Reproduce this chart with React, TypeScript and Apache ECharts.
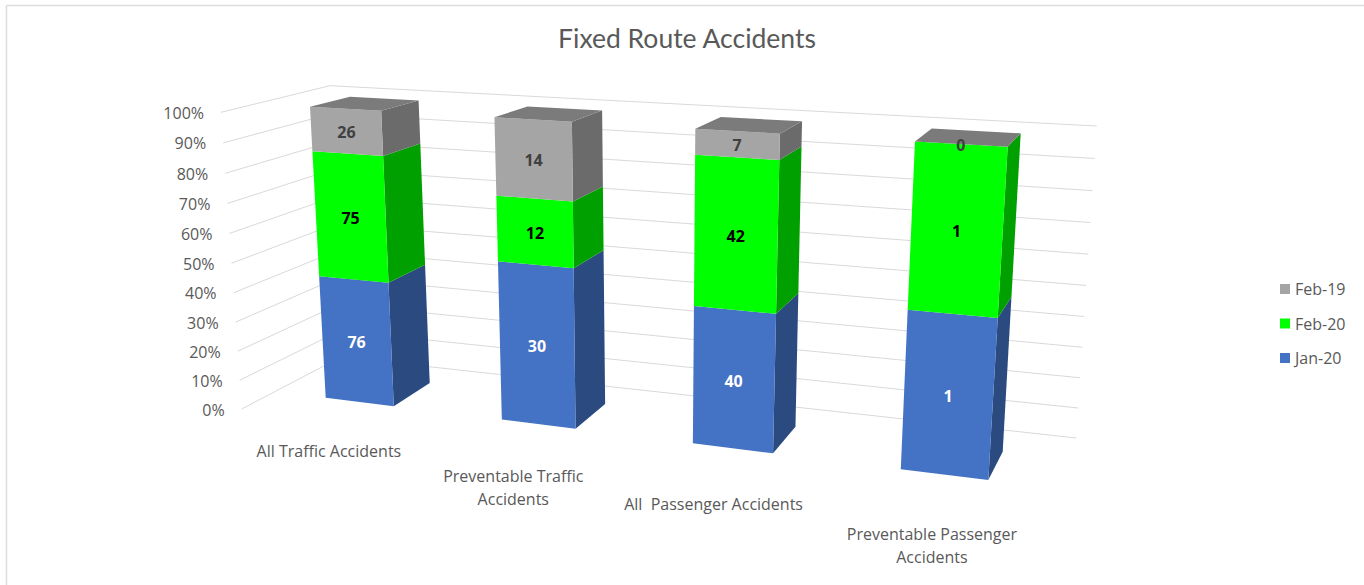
import React, { useEffect, useRef } from "react";
import * as echarts from "echarts";

const titleText = "Fixed Route Accidents";
const categories = [
  "All Traffic Accidents",
  "Preventable Traffic\nAccidents",
  "All  Passenger Accidents",
  "Preventable Passenger\nAccidents",
];
const jan20Values = [76, 30, 40, 1];
const feb20Values = [75, 12, 42, 1];
const feb19Values = [26, 14, 7, 0];
const tickValues = [0, 10, 20, 30, 40, 50, 60, 70, 80, 90, 100];
const legendOrder = ["Feb-19", "Feb-20", "Jan-20"];

const FONT = "Lato";
const SMALL_FONT = "Open Sans";
const TEXT = "#595959";
const GRID_LINE = "#d9d9d9";
const BAR_WIDTH = 0.396; // of one category step
const X_MAX = 3 + BAR_WIDTH;

type P = [number, number];
type Homography = (u: number, v: number) => P;

// Projective map of the unit square on a quad: (0,0) (1,0) (1,1) (0,1)
function makeHomography(p0: P, p1: P, p2: P, p3: P): Homography {
  const dx1 = p1[0] - p2[0];
  const dx2 = p3[0] - p2[0];
  const sx = p0[0] - p1[0] + p2[0] - p3[0];
  const dy1 = p1[1] - p2[1];
  const dy2 = p3[1] - p2[1];
  const sy = p0[1] - p1[1] + p2[1] - p3[1];
  const det = dx1 * dy2 - dx2 * dy1;
  const g = (sx * dy2 - dx2 * sy) / det;
  const h = (dx1 * sy - sx * dy1) / det;
  const a = p1[0] - p0[0] + g * p1[0];
  const b = p3[0] - p0[0] + h * p3[0];
  const d = p1[1] - p0[1] + g * p1[1];
  const e = p3[1] - p0[1] + h * p3[1];
  return (u, v) => {
    const w = g * u + h * v + 1;
    return [(a * u + b * v + p0[0]) / w, (d * u + e * v + p0[1]) / w];
  };
}

// Planes of the 3-D box, as seen in the picture
const frontPlane = makeHomography([325.7, 397.7], [988.3, 480], [1007.7, 146.7], [310, 106.7]);
const backPlane = makeHomography([364, 375], [1002.7, 451.7], [1020.7, 133.3], [350, 96.7]);
const wallPlane = makeHomography([341, 357], [1076.3, 438], [1096.7, 126], [330, 85.7]);
const sidePlane = makeHomography([241.7, 409], [345.5, 357], [330, 85.7], [221, 112.3]);

function stackRows(values: number[][]) {
  // one list of rows per series: [category, from %, to %, raw value]
  const totals = values[0].map((_, i) => values.reduce((s, row) => s + row[i], 0));
  const running = totals.map(() => 0);
  return values.map((row) =>
    row.map((value, i) => {
      const from = running[i];
      running[i] += (value / totals[i]) * 100;
      return [i, from, running[i], value];
    })
  );
}

const [jan20Rows, feb20Rows, feb19Rows] = stackRows([jan20Values, feb20Values, feb19Values]);

function normaliser(api: any) {
  const o = api.coord([0, 0]);
  const e = api.coord([X_MAX, 100]);
  return (x: number, y: number): P => {
    const p = api.coord([x, y]);
    return [(p[0] - o[0]) / (e[0] - o[0]), (p[1] - o[1]) / (e[1] - o[1])];
  };
}

function barSeries(name: string, rows: number[][], front: string, side: string, labelColor: string, top?: string) {
  return {
    type: "custom",
    name,
    coordinateSystem: "cartesian2d",
    clip: false,
    silent: true,
    z: 3,
    itemStyle: { color: front },
    data: rows,
    renderItem: (_: any, api: any) => {
      const norm = normaliser(api);
      const i = api.value(0);
      const from = api.value(1);
      const to = api.value(2);
      const raw = api.value(3);
      const [uL, v0] = norm(i, from);
      const [uR, v1] = norm(i + BAR_WIDTH, to);
      const children: any[] = [
        {
          type: "polygon",
          shape: { points: [frontPlane(uR, v0), backPlane(uR, v0), backPlane(uR, v1), frontPlane(uR, v1)] },
          style: { fill: side },
        },
        {
          type: "polygon",
          shape: { points: [frontPlane(uL, v0), frontPlane(uR, v0), frontPlane(uR, v1), frontPlane(uL, v1)] },
          style: { fill: front },
        },
      ];
      if (top) {
        children.push({
          type: "polygon",
          shape: { points: [frontPlane(uL, v1), frontPlane(uR, v1), backPlane(uR, v1), backPlane(uL, v1)] },
          style: { fill: top },
        });
      }
      const c = frontPlane((uL + uR) / 2, (v0 + v1) / 2);
      children.push({
        type: "text",
        z2: 10,
        style: {
          text: String(raw),
          x: c[0],
          y: c[1] + 1,
          align: "center",
          verticalAlign: "middle",
          fontFamily: SMALL_FONT,
          fontSize: 16,
          fontWeight: "bold",
          fill: labelColor,
        },
      });
      return { type: "group", children };
    },
  };
}

const wallSeries = {
  type: "custom",
  name: "walls",
  coordinateSystem: "cartesian2d",
  clip: false,
  silent: true,
  z: 1,
  data: tickValues.map((t) => [0, t]),
  renderItem: (_: any, api: any) => {
    const norm = normaliser(api);
    const t = api.value(1);
    const v = norm(0, t)[1];
    const start = sidePlane(0, v);
    return {
      type: "group",
      children: [
        {
          type: "polyline",
          shape: { points: [start, wallPlane(0, v), wallPlane(1, v)] },
          style: { stroke: GRID_LINE, fill: "none", lineWidth: 1 },
        },
        {
          type: "text",
          style: {
            text: `${t}%`,
            x: start[0] - 17,
            y: start[1] + 0.5,
            align: "right",
            verticalAlign: "middle",
            fontFamily: SMALL_FONT,
            fontSize: 16,
            fill: TEXT,
          },
        },
      ],
    };
  },
};

const categorySeries = {
  type: "custom",
  name: "categories",
  coordinateSystem: "cartesian2d",
  clip: false,
  silent: true,
  z: 4,
  data: categories.map((_, i) => [i, 0]),
  renderItem: (_: any, api: any) => {
    const norm = normaliser(api);
    const i = api.value(0);
    const [uL] = norm(i, 0);
    const [uR] = norm(i + BAR_WIDTH, 0);
    const f = frontPlane((uL + uR) / 2, 0);
    const edgeF = frontPlane(uR, 0);
    const edgeB = backPlane(uR, 0);
    return {
      type: "text",
      style: {
        text: categories[i],
        x: f[0] + 0.85 * (edgeF[0] - edgeB[0]),
        y: f[1] + 2.1 * (edgeF[1] - edgeB[1]) - 11.5,
        align: "center",
        verticalAlign: "top",
        fontFamily: SMALL_FONT,
        fontSize: 16,
        lineHeight: 23,
        fill: TEXT,
      },
    };
  },
};

export default function App() {
  const ref = useRef<HTMLDivElement>(null);
  useEffect(() => {
    document.body.style.margin = "0";
    const chart = echarts.init(ref.current!, undefined, { renderer: "svg" });
    chart.setOption({
      animation: false,
      backgroundColor: "#ffffff",
      title: {
        text: titleText,
        left: 682,
        top: 19,
        textAlign: "center",
        textStyle: { fontFamily: FONT, fontSize: 26.5, fontWeight: "normal", color: TEXT },
      },
      legend: {
        data: legendOrder,
        orient: "vertical",
        left: 1275,
        top: 276,
        itemWidth: 10,
        itemHeight: 10,
        itemGap: 18.5,
        icon: "rect",
        selectedMode: false,
        textStyle: { fontFamily: SMALL_FONT, fontSize: 16, color: TEXT },
      },
      grid: { left: 100, right: 100, top: 100, bottom: 100 },
      xAxis: { type: "value", min: 0, max: X_MAX, show: false },
      yAxis: { type: "value", min: 0, max: 100, interval: 10, show: false },
      graphic: [
        { type: "line", shape: { x1: 6.5, y1: 5.5, x2: 1364, y2: 5.5 }, style: { stroke: "#dcdcdc", lineWidth: 1.5 } },
        { type: "line", shape: { x1: 6.5, y1: 5.5, x2: 6.5, y2: 585 }, style: { stroke: "#dcdcdc", lineWidth: 1.5 } },
      ],
      series: [
        wallSeries,
        barSeries("Jan-20", jan20Rows, "#4472c4", "#2b4a80", "#ffffff"),
        barSeries("Feb-20", feb20Rows, "#00ff00", "#00a000", "#000000"),
        barSeries("Feb-19", feb19Rows, "#a5a5a5", "#6b6b6b", "#404040", "#7b7b7b"),
        categorySeries,
      ],
    });
    return () => chart.dispose();
  }, []);
  return <div ref={ref} style={{ position: "fixed", left: 0, top: 0, width: 1364, height: 585 }} />;
}
